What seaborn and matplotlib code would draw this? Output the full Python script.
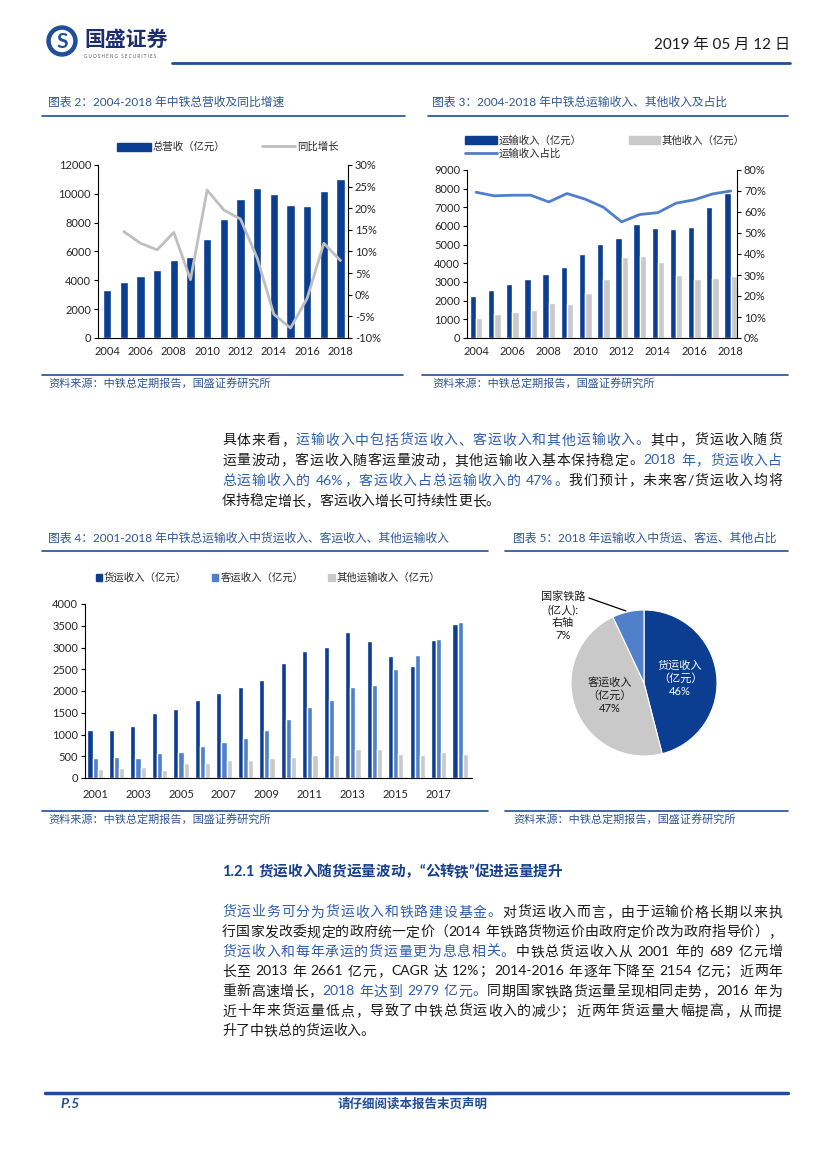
import numpy as np
import pandas as pd
import matplotlib
matplotlib.use("Agg")
import matplotlib.pyplot as plt
import seaborn as sns
from matplotlib.patches import Patch, Circle
from matplotlib.lines import Line2D
from matplotlib.font_manager import FontProperties
from matplotlib.ticker import FuncFormatter

# -------------------------------
# Data
# -------------------------------
years_a = [str(y) for y in range(2004, 2019)]
revenue = [3350, 3880, 4320, 4730, 5400, 5610, 6900, 8260, 9650, 10430,
           9990, 9210, 9140, 10220, 11010]
growth_years = list(range(1, 15))  # 2005-2018
growth = [14.6, 11.9, 10.4, 14.4, 3.5, 24.2, 19.6, 17.5, 8.5, -4.5,
          -7.7, -0.8, 11.9, 7.9]

transport = [2250, 2550, 2900, 3150, 3450, 3800, 4500, 5050, 5350, 6100,
             5900, 5850, 5950, 7000, 7750]
other_inc = [1050, 1300, 1400, 1500, 1900, 1800, 2400, 3150, 4350, 4400,
             4050, 3350, 3150, 3200, 3300]
transport_share = [69.4, 67.7, 68.0, 68.0, 64.8, 68.8, 66.1, 62.3, 55.3, 58.8,
                   59.7, 64.2, 65.8, 68.6, 70.0]

years_b = [str(y) for y in range(2001, 2019)]
freight = [1100, 1092, 1190, 1500, 1577, 1790, 1960, 2100, 2246, 2654,
           2915, 3015, 3346, 3160, 2808, 2585, 3177, 3546]
passenger = [470, 490, 470, 585, 608, 730, 830, 930, 1100, 1360,
             1623, 1792, 2100, 2130, 2515, 2823, 3200, 3592]
other_transport = [208, 223, 254, 177, 346, 346, 408, 423, 470, 492,
                   538, 538, 660, 660, 560, 538, 590, 560]

pie_labels = ["货运收入\n（亿元）\n46%", "客运收入\n（亿元）\n47%", ""]
pie_values = [46, 47, 7]

# -------------------------------
# Style
# -------------------------------
sns.set_theme(style="white")
FAM = ["Lato", "Noto Sans CJK SC", "DejaVu Sans"]
plt.rcParams["font.family"] = FAM
plt.rcParams["axes.unicode_minus"] = False

DARK = "#0B3D91"
MID = "#4F80C9"
GREY = "#C9C9C9"
LGREY = "#BFBFBF"
LINE3 = "#4F7FCB"
TBLUE = "#2F5597"
HBLUE = "#1F4E9A"
TXT = "#1A1A1A"

W, H = 827, 1170
fig = plt.figure(figsize=(8.27, 11.7), dpi=100)

# overlay in pixel coords for page text
ov = fig.add_axes([0, 0, 1, 1])
ov.set_xlim(0, W)
ov.set_ylim(H, 0)
ov.axis("off")


def rect(x0, y0, x1, y1):
    return [x0 / W, 1 - y1 / H, (x1 - x0) / W, (y1 - y0) / H]


renderer = fig.canvas.get_renderer()


def tokens(s):
    out, buf = [], ""
    for ch in s:
        if ord(ch) < 128 and ch != " ":
            buf += ch
        else:
            if buf:
                out.append(buf)
                buf = ""
            out.append(ch)
    if buf:
        out.append(buf)
    return out


def draw_line(segs, x0, y, width=None, size=10, weight="normal"):
    prop = FontProperties(family=FAM, size=size, weight=weight)
    items = []
    for text, color in segs:
        for t in tokens(text):
            items.append((t, color))
    widths = []
    for t, _ in items:
        if t == " ":
            widths.append(0.28 * size * 100 / 72)
        else:
            widths.append(renderer.get_text_width_height_descent(t, prop, ismath=False)[0])
    gap = 0
    if width is not None and len(items) > 1:
        gap = max((width - sum(widths)) / (len(items) - 1), 0)
    x = x0
    for (t, c), w in zip(items, widths):
        if t != " ":
            ov.text(x, y, t, color=c, fontproperties=prop, va="center", ha="left")
        x += w + gap


# -------------------------------
# Header / footer
# -------------------------------
ov.add_patch(Circle((62, 41), 15, color=HBLUE))
ov.add_patch(Circle((62, 41), 10.5, color="white"))
ov.text(62, 42, "S", color=HBLUE, fontsize=15, fontweight="bold", ha="center", va="center")
ov.text(84, 40, "国盛证券", color="#1B2E6E", fontsize=15, fontweight="bold", va="center")
ov.text(84, 57, "G U O S H E N G   S E C U R I T I E S", color="#555555", fontsize=3.3, va="center")
ov.text(790, 45, "2019 年 05 月 12 日", color=TXT, fontsize=11, ha="right", va="center")
ov.plot([172, 790], [63, 63], color=HBLUE, lw=2)

ov.plot([45, 788], [1093, 1093], color=HBLUE, lw=2.5)
ov.text(60, 1104, "P.5", color=HBLUE, fontsize=10, fontweight="bold", style="italic", va="center")
ov.text(413, 1104, "请仔细阅读本报告末页声明", color=HBLUE, fontsize=9, fontweight="bold", ha="center", va="center")

# chart titles and separators
ov.text(48, 102, "图表 2：2004-2018 年中铁总营收及同比增速", color=TBLUE, fontsize=8.5, va="center")
ov.text(432, 102, "图表 3：2004-2018 年中铁总运输收入、其他收入及占比", color=TBLUE, fontsize=8.5, va="center")
ov.plot([42, 405], [116, 116], color=HBLUE, lw=1.2)
ov.plot([428, 788], [116, 116], color=HBLUE, lw=1.2)
ov.plot([42, 403], [375, 375], color=HBLUE, lw=1.2)
ov.plot([422, 788], [375, 375], color=HBLUE, lw=1.2)
ov.text(48, 383, "资料来源：中铁总定期报告，国盛证券研究所", color=TBLUE, fontsize=8, va="center")
ov.text(432, 383, "资料来源：中铁总定期报告，国盛证券研究所", color=TBLUE, fontsize=8, va="center")

ov.text(48, 538, "图表 4：2001-2018 年中铁总运输收入中货运收入、客运收入、其他运输收入", color=TBLUE, fontsize=8.5, va="center")
ov.text(513, 538, "图表 5：2018 年运输收入中货运、客运、其他占比", color=TBLUE, fontsize=8.5, va="center")
ov.plot([42, 488], [551, 551], color=HBLUE, lw=1.2)
ov.plot([505, 788], [551, 551], color=HBLUE, lw=1.2)
ov.plot([42, 488], [811, 811], color=HBLUE, lw=1.2)
ov.plot([505, 788], [811, 811], color=HBLUE, lw=1.2)
ov.text(48, 819, "资料来源：中铁总定期报告，国盛证券研究所", color=TBLUE, fontsize=8, va="center")
ov.text(513, 819, "资料来源：中铁总定期报告，国盛证券研究所", color=TBLUE, fontsize=8, va="center")

# -------------------------------
# Body text
# -------------------------------
K, B = TXT, "#2F5DB0"
para1 = [
    [("具体来看，", K), ("运输收入中包括货运收入、客运收入和其他运输收入。", B), ("其中，货运收入随货", K)],
    [("运量波动，客运收入随客运量波动，其他运输收入基本保持稳定。", K), ("2018 年，货运收入占", B)],
    [("总运输收入的 46%，客运收入占总运输收入的 47%。", B), ("我们预计，未来客/货运收入均将", K)],
    [("保持稳定增长，客运收入增长可持续性更长。", K)],
]
for i, segs in enumerate(para1):
    draw_line(segs, 222, 440 + i * 20.3, width=None if i == len(para1) - 1 else 560, size=10)

draw_line([("1.2.1 货运收入随货运量波动，“公转铁”促进运量提升", "#163F8C")], 222, 872, size=10.5, weight="bold")

para2 = [
    [("货运业务可分为货运收入和铁路建设基金。", B), ("对货运收入而言，由于运输价格长期以来执", K)],
    [("行国家发改委规定的政府统一定价（2014 年铁路货物运价由政府定价改为政府指导价），", K)],
    [("货运收入和每年承运的货运量更为息息相关。", B), ("中铁总货运收入从 2001 年的 689 亿元增", K)],
    [("长至 2013 年 2661 亿元，CAGR 达 12%；2014-2016 年逐年下降至 2154 亿元；近两年", K)],
    [("重新高速增长，", K), ("2018 年达到 2979 亿元。", B), ("同期国家铁路货运量呈现相同走势，2016 年为", K)],
    [("近十年来货运量低点，导致了中铁总货运收入的减少；近两年货运量大幅提高，从而提", K)],
    [("升了中铁总的货运收入。", K)],
]
for i, segs in enumerate(para2):
    draw_line(segs, 222, 912 + i * 19.8, width=None if i == len(para2) - 1 else 560, size=10)

TICK = 8


def style_axis(ax, xpad=6):
    for s in ["top", "right"]:
        ax.spines[s].set_visible(False)
    for s in ["left", "bottom"]:
        ax.spines[s].set_color("black")
        ax.spines[s].set_linewidth(0.8)
    ax.tick_params(axis="y", direction="out", length=3, width=0.8, color="black",
                   labelsize=TICK, pad=2, left=True)
    ax.tick_params(axis="x", length=0, labelsize=TICK, pad=xpad)
    ax.set_xlabel("")
    ax.set_ylabel("")


# -------------------------------
# Chart 2
# -------------------------------
ax2 = fig.add_axes(rect(98, 165, 348, 338))
sns.barplot(x=years_a, y=revenue, color=DARK, width=0.5, saturation=1, ax=ax2)
style_axis(ax2)
ax2.set_ylim(0, 12000)
ax2.set_yticks(range(0, 12001, 2000))
ax2.set_xticks(range(0, 15, 2))
ax2.set_xticklabels(years_a[::2])
ax2r = ax2.twinx()
sns.lineplot(x=growth_years, y=growth, color=LGREY, lw=2, ax=ax2r)
ax2r.set_ylim(-10, 30)
ax2r.set_yticks(range(-10, 31, 5))
ax2r.yaxis.set_major_formatter(FuncFormatter(lambda v, p: f"{v:.0f}%"))
for s in ["top", "left", "bottom"]:
    ax2r.spines[s].set_visible(False)
ax2r.spines["right"].set_color("black")
ax2r.spines["right"].set_linewidth(0.8)
ax2r.tick_params(axis="y", direction="out", length=3, width=0.8, color="black",
                 labelsize=TICK, pad=2, right=True)
ax2r.set_ylabel("")
ax2.set_xlim(-0.55, 14.45)
ax2r.set_xlim(-0.55, 14.45)
h2 = [Patch(color=DARK), Line2D([], [], color=LGREY, lw=2)]
ax2.legend(h2, ["总营收（亿元）", "同比增长"], ncol=2, frameon=False, fontsize=7.5,
           loc="center", bbox_to_anchor=(228 / W, 1 - 147 / H), bbox_transform=fig.transFigure,
           handlelength=3.2, handleheight=0.8, columnspacing=3.5, handletextpad=0.2)

# -------------------------------
# Chart 3
# -------------------------------
df3 = pd.DataFrame({
    "year": years_a * 2,
    "value": transport + other_inc,
    "series": ["运输收入（亿元）"] * 15 + ["其他收入（亿元）"] * 15,
})
ax3 = fig.add_axes(rect(467, 170, 737, 338))
sns.barplot(data=df3, x="year", y="value", hue="series", palette=[DARK, GREY],
            width=0.7, saturation=1, legend=False, ax=ax3)
style_axis(ax3)
ax3.set_ylim(0, 9000)
ax3.set_yticks(range(0, 9001, 1000))
ax3.set_xticks(range(0, 15, 2))
ax3.set_xticklabels(years_a[::2])
ax3r = ax3.twinx()
sns.lineplot(x=list(range(15)), y=transport_share, color=LINE3, lw=2, ax=ax3r)
ax3r.set_ylim(0, 80)
ax3r.set_yticks(range(0, 81, 10))
ax3r.yaxis.set_major_formatter(FuncFormatter(lambda v, p: f"{v:.0f}%"))
for s in ["top", "left", "bottom"]:
    ax3r.spines[s].set_visible(False)
ax3r.spines["right"].set_color("black")
ax3r.spines["right"].set_linewidth(0.8)
ax3r.tick_params(axis="y", direction="out", length=3, width=0.8, color="black",
                 labelsize=TICK, pad=2, right=True)
ax3r.set_ylabel("")
ax3.set_xlim(-0.5, 14.35)
ax3r.set_xlim(-0.5, 14.35)
h3 = [Patch(color=DARK), Line2D([], [], color=LINE3, lw=2), Patch(color=GREY)]
ax3.legend(h3, ["运输收入（亿元）", "运输收入占比", "其他收入（亿元）"], ncol=2, frameon=False,
           fontsize=7.5, loc="upper left", bbox_to_anchor=(456 / W, 1 - 126 / H),
           bbox_transform=fig.transFigure, handlelength=3.0, handleheight=0.8,
           columnspacing=4.5, handletextpad=0.2, labelspacing=0.25)

# -------------------------------
# Chart 4
# -------------------------------
df4 = pd.DataFrame({
    "year": years_b * 3,
    "value": freight + passenger + other_transport,
    "series": ["货运收入（亿元）"] * 18 + ["客运收入（亿元）"] * 18 + ["其他运输收入（亿元）"] * 18,
})
ax4 = fig.add_axes(rect(85, 604, 472, 778))
sns.barplot(data=df4, x="year", y="value", hue="series", palette=[DARK, MID, GREY],
            width=0.72, saturation=1, legend=False, ax=ax4)
style_axis(ax4, xpad=8)
ax4.set_ylim(0, 4000)
ax4.set_yticks(range(0, 4001, 500))
ax4.set_xticks(range(0, 18, 2))
ax4.set_xticklabels(years_b[:-1:2])
ax4.set_xlim(-0.47, 17.55)
h4 = [Patch(color=DARK), Patch(color=MID), Patch(color=GREY)]
ax4.legend(h4, ["货运收入（亿元）", "客运收入（亿元）", "其他运输收入（亿元）"], ncol=3,
           frameon=False, fontsize=7.5, loc="center", bbox_to_anchor=(268 / W, 1 - 578 / H),
           bbox_transform=fig.transFigure, handlelength=0.6, handleheight=0.6,
           columnspacing=2.4, handletextpad=0.2)

# -------------------------------
# Chart 5 (pie)
# -------------------------------
ax5 = fig.add_axes(rect(571, 610, 717, 756))
wedges, texts = ax5.pie(pie_values, colors=[DARK, GREY, MID], startangle=90,
                        counterclock=False, labels=pie_labels, labeldistance=0.5,
                        wedgeprops=dict(edgecolor="white", linewidth=0.8),
                        textprops=dict(fontsize=8, ha="center", va="center"))
texts[0].set_color("white")
texts[1].set_color(TXT)
ax5.set_xlim(-1, 1)
ax5.set_ylim(-1, 1)
ov.text(563, 616, "国家铁路\n(亿人):\n右轴\n7%", fontsize=8, color=TXT, ha="center",
        va="center", linespacing=1.25)
ov.plot([589, 626], [598, 611], color="black", lw=0.9)

fig.savefig("out.png", dpi=100)
